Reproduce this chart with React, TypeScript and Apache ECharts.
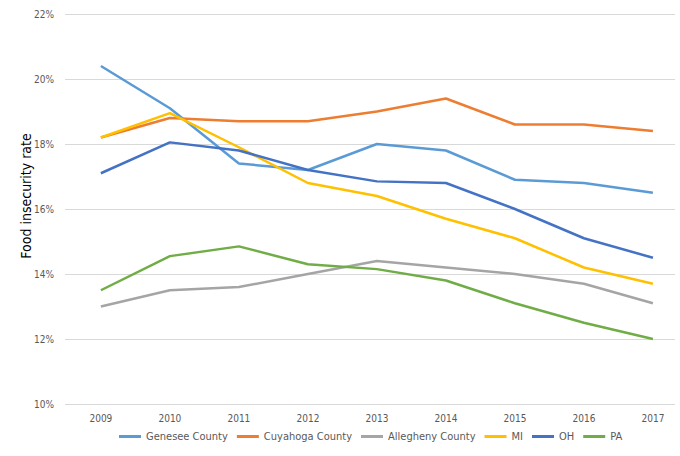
import React, { useEffect, useRef } from "react";
import * as echarts from "echarts";

// Years on the horizontal axis
const years = [2009, 2010, 2011, 2012, 2013, 2014, 2015, 2016, 2017];

// Food insecurity rate (%) per year
const genesee = [20.4, 19.1, 17.4, 17.2, 18.0, 17.8, 16.9, 16.8, 16.5];
const cuyahoga = [18.2, 18.8, 18.7, 18.7, 19.0, 19.4, 18.6, 18.6, 18.4];
const allegheny = [13.0, 13.5, 13.6, 14.0, 14.4, 14.2, 14.0, 13.7, 13.1];
const mi = [18.2, 18.95, 17.9, 16.8, 16.4, 15.7, 15.1, 14.2, 13.7];
const oh = [17.1, 18.05, 17.8, 17.2, 16.85, 16.8, 16.0, 15.1, 14.5];
const pa = [13.5, 14.55, 14.85, 14.3, 14.15, 13.8, 13.1, 12.5, 12.0];

const seriesNames = ["Genesee County", "Cuyahoga County", "Allegheny County", "MI", "OH", "PA"];
const seriesValues = [genesee, cuyahoga, allegheny, mi, oh, pa];
const seriesColors = ["#5B9BD5", "#ED7D31", "#A5A5A5", "#FFC000", "#4472C4", "#70AD47"];

const yTitle = "Food insecurity rate";

const FONT = "'DejaVu Sans Condensed', 'Liberation Sans', sans-serif";

export default function App() {
  const ref = useRef<HTMLDivElement>(null);

  useEffect(() => {
    document.body.style.margin = "0";
    if (!ref.current) return;
    const chart = echarts.init(ref.current, undefined, { renderer: "svg" });
    chart.setOption({
      animation: false,
      backgroundColor: "#ffffff",
      grid: { left: 65, right: 5, top: 14, bottom: 52, containLabel: false },
      graphic: [
        {
          type: "text",
          x: 26,
          y: 196,
          rotation: Math.PI / 2,
          style: {
            text: yTitle,
            fontFamily: FONT,
            fontSize: 14,
            fill: "#000000",
            align: "center",
            verticalAlign: "middle",
          },
        },
      ],
      legend: {
        bottom: 9,
        left: 114,
        icon: "rect",
        itemWidth: 22,
        itemHeight: 3,
        itemGap: 9,
        data: seriesNames,
        textStyle: { fontFamily: FONT, fontSize: 11, color: "#595959" },
      },
      xAxis: {
        type: "value",
        min: 2008.48,
        max: 2017.32,
        splitLine: { show: false },
        axisLine: { show: false },
        axisTick: { show: false },
        axisLabel: {
          customValues: years,
          margin: 9,
          fontFamily: FONT,
          fontSize: 10,
          color: "#595959",
          formatter: (v: number) => String(Math.round(v)),
        },
      },
      yAxis: {
        type: "value",
        min: 10,
        max: 22,
        interval: 2,
        axisLine: { show: false },
        axisTick: { show: false },
        axisLabel: {
          margin: 11,
          fontFamily: FONT,
          fontSize: 10,
          color: "#595959",
          formatter: (v: number) => `${v}%`,
        },
        splitLine: { lineStyle: { color: "#D9D9D9", width: 1 } },
      },
      series: seriesNames.map((name, i) => ({
        name,
        type: "line",
        data: years.map((y, j) => [y, seriesValues[i][j]]),
        showSymbol: false,
        symbol: "none",
        color: seriesColors[i],
        lineStyle: { width: 2.5, color: seriesColors[i] },
      })),
    });
    return () => chart.dispose();
  }, []);

  return <div ref={ref} style={{ width: 680, height: 456 }} />;
}
